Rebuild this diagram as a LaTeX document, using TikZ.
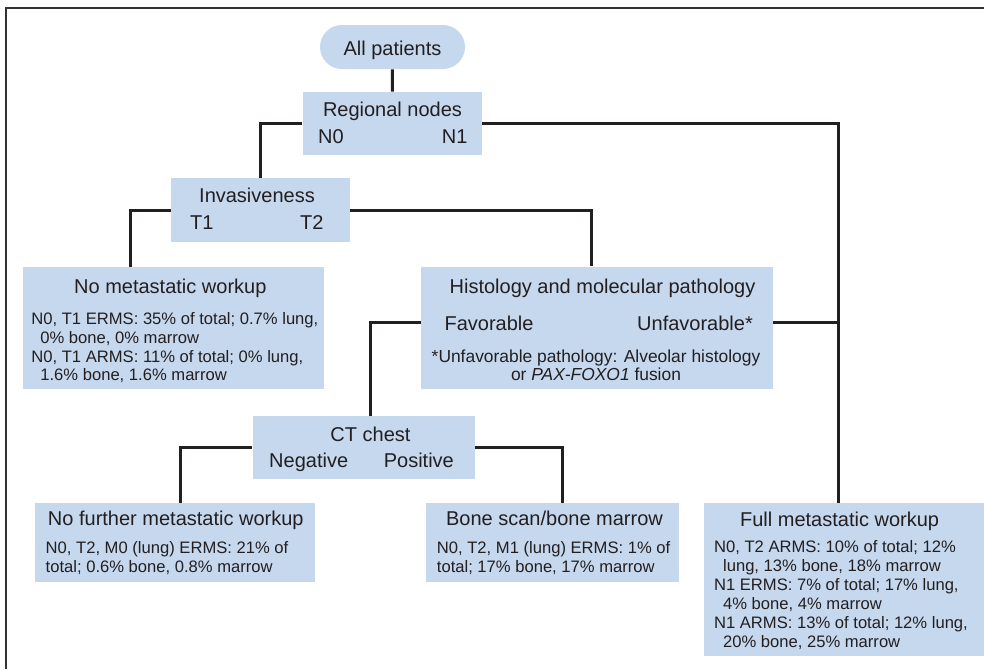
\documentclass[tikz,border=0pt]{standalone}
\usepackage{fontspec}
\setsansfont{Liberation Sans}
\usepackage{tikz}
\usetikzlibrary{positioning}
\definecolor{jco-lightblue}{RGB}{197,216,238}
\definecolor{jco-ink}{RGB}{35,31,32}
\colorlet{boxcolor}{jco-lightblue}
\colorlet{linecolor}{jco-ink}

\begin{document}
\begin{tikzpicture}[x=0.5pt, y=-0.5pt, font=\sffamily, text=jco-ink,
    box/.style={fill=boxcolor, inner sep=0pt},
    head/.style={font=\sffamily\fontsize{10}{12}\selectfont, anchor=base, inner sep=0pt},
    body/.style={font=\sffamily\fontsize{8.3}{9.4}\selectfont, align=left, anchor=north west, inner sep=0pt},
    link/.style={draw=linecolor, line width=1.5pt}]

    \useasboundingbox (0,0) rectangle (984,669);

    % ===== Frame =====
    \draw[black!80, line width=1pt] (984,8) -- (6,8) -- (6,669);

    % ===== Boxes =====
    \node[box, rounded corners=11pt, minimum width=72.5pt, minimum height=22pt] (allpat) at (392.5,47) {};
    \node[box, minimum width=89.7pt, minimum height=31.7pt] (regional) at (392.3,123.7) {};
    \node[box, minimum width=89.5pt, minimum height=31.7pt] (invas) at (260.5,210) {};
    \node[box, minimum width=150.7pt, minimum height=61pt] (nometa) at (173.3,328.3) {};
    \node[box, minimum width=175.8pt, minimum height=61.3pt] (hist) at (596.8,328) {};
    \node[box, minimum width=111.2pt, minimum height=31.7pt] (ct) at (363.8,447.7) {};
    \node[box, minimum width=140pt, minimum height=39.5pt] (nofur) at (175,542.8) {};
    \node[box, minimum width=126.5pt, minimum height=39.5pt] (bone) at (552.5,542.5) {};
    \node[box, minimum width=139.75pt, minimum height=76.5pt] (full) at (843.75,579.5) {};

    % ===== Box texts =====
    \node[head] (allpatlbl) at (392.5,55) {All patients};

    \node[head] (regionallbl) at (392.5,116) {Regional nodes};
    \node[head] (nzero) at (331,143) {N0};
    \node[head] (nfirst) at (454.7,143) {N1};

    \node[head] (invaslbl) at (257,202.3) {Invasiveness};
    \node[head] (tfirst) at (201.7,229.3) {T1};
    \node[head] (tsecond) at (311.7,229.3) {T2};

    \node[head] (nometalbl) at (170.3,293.5) {No metastatic workup};
    \node[body] (nometatxt) at (31,312) {N0, T1 ERMS: 35\% of total; 0.7\% lung,\\
        \hspace*{4.5pt}0\% bone, 0\% marrow\\
        N0, T1 ARMS: 11\% of total; 0\% lung,\\
        \hspace*{4.5pt}1.6\% bone, 1.6\% marrow};

    \node[head] (histlbl) at (602.5,293.5) {Histology and molecular pathology};
    \node[head] (fav) at (489,330) {Favorable};
    \node[head] (unfav) at (695,330) {Unfavorable*};
    \node[body, font=\sffamily\fontsize{8.7}{9.2}\selectfont, align=center, anchor=north] (histnote) at (596,349.5)
        {*Unfavorable pathology: Alveolar histology\\or \textit{PAX-FOXO1} fusion};

    \node[head] (ctlbl) at (370.5,441) {CT chest};
    \node[head] (neg) at (308.7,467.7) {Negative};
    \node[head] (pos) at (418.8,467.7) {Positive};

    \node[head] (nofurlbl) at (175.8,525.7) {No further metastatic workup};
    \node[body] (nofurtxt) at (45.3,541.3) {N0, T2, M0 (lung) ERMS: 21\% of\\
        total; 0.6\% bone, 0.8\% marrow};

    \node[head] (bonelbl) at (554.5,525.7) {Bone scan/bone marrow};
    \node[body] (bonetxt) at (436.5,541.3) {N0, T2, M1 (lung) ERMS: 1\% of\\
        total; 17\% bone, 17\% marrow};

    \node[head] (fulllbl) at (839.6,526) {Full metastatic workup};
    \node[body, font=\sffamily\fontsize{8.3}{9.5}\selectfont] (fulltxt) at (713.7,539.7) {N0, T2 ARMS: 10\% of total; 12\%\\
        \hspace*{4.5pt}lung, 13\% bone, 18\% marrow\\
        N1 ERMS: 7\% of total; 17\% lung,\\
        \hspace*{4.5pt}4\% bone, 4\% marrow\\
        N1 ARMS: 13\% of total; 12\% lung,\\
        \hspace*{4.5pt}20\% bone, 25\% marrow};

    % ===== Connectors =====
    \coordinate (fulltop) at ([xshift=-2.4pt]full.north);
    \draw[link] (allpat) -- (regional);
    \draw[link] (regional.west) -| (invas.north);
    \draw[link] (regional.east) -| (fulltop);
    \draw[link] (invas.west) -| ([xshift=-21.3pt]nometa.north);
    \draw[link] (invas.east) -| ([xshift=-2.5pt]hist.north);
    \draw[link] (fav -| hist.west) -| ([xshift=3.45pt]ct.north);
    \draw[link] (unfav -| hist.east) -- (unfav -| fulltop);
    \draw[link] (ct.west) -| ([xshift=2.85pt]nofur.north);
    \draw[link] (ct.east) -| ([xshift=5pt]bone.north);

\end{tikzpicture}
\end{document}
